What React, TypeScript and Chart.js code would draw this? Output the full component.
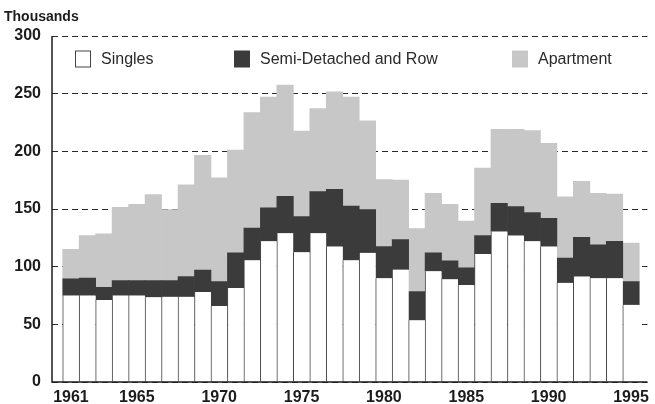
import React, { useEffect, useRef } from "react";
import { Chart, registerables } from "chart.js";

Chart.register(...registerables);

const years = [
  1961, 1962, 1963, 1964, 1965, 1966, 1967, 1968, 1969, 1970,
  1971, 1972, 1973, 1974, 1975, 1976, 1977, 1978, 1979, 1980,
  1981, 1982, 1983, 1984, 1985, 1986, 1987, 1988, 1989, 1990,
  1991, 1992, 1993, 1994, 1995,
];
const singles = [
  75, 75, 71, 75, 75, 73.5, 74, 74, 78, 66,
  81.5, 105.5, 122, 129, 112.5, 129, 117.5, 105.5, 112, 90,
  97.5, 53.5, 96, 89, 84, 111, 130.5, 127, 122, 117.5,
  86, 91.5, 90, 90, 67,
];
const semiDetached = [
  14.5, 15, 11, 13, 13, 14.5, 14, 17.5, 19, 21,
  30.5, 28, 29, 32, 31, 36, 49.5, 47, 37.5, 27.5,
  26, 25, 16, 16, 15, 16, 24.5, 25, 25, 24.5,
  21.5, 34, 29, 32, 20,
];
const apartment = [
  25.5, 37, 46.5, 63.5, 66, 74.5, 61.5, 79.5, 99.5, 90,
  89, 100, 96, 96.5, 74, 72, 84.5, 94.5, 77, 58,
  51.5, 54.5, 51.5, 49, 40.5, 58.5, 64, 67, 71, 65,
  53, 48.5, 44.5, 41, 33.5,
];
const xTickYears = [1961, 1965, 1970, 1975, 1980, 1985, 1990, 1995];
const seriesLabels = ["Singles", "Semi-Detached and Row", "Apartment"];
const yAxisTitle = "Thousands";

const FONT = "'Liberation Sans', Arial, Helvetica, sans-serif";
const INK = "#1c1c1c";
const DARK = "#3b3b3b";
const LIGHT = "#c7c7c7";

const overlayPlugin = {
  id: "overlay",
  afterDraw(chart: any) {
    const { ctx, chartArea: a } = chart;
    ctx.save();
    // axes
    ctx.strokeStyle = INK;
    ctx.lineWidth = 1.5;
    ctx.setLineDash([]);
    ctx.beginPath();
    ctx.moveTo(a.left, a.top);
    ctx.lineTo(a.left, a.bottom);
    ctx.lineTo(a.right, a.bottom);
    ctx.stroke();

    // title
    ctx.fillStyle = INK;
    ctx.font = `bold 14px ${FONT}`;
    ctx.textBaseline = "middle";
    ctx.textAlign = "left";
    ctx.fillText(yAxisTitle, 4, 17);

    // legend
    const offsets = [23, 182, 460];
    const cy = a.top + 23;
    ctx.font = `16px ${FONT}`;
    chart.data.datasets.forEach((ds: any, i: number) => {
      const bx = a.left + offsets[i];
      ctx.fillStyle = ds.legendFill;
      ctx.fillRect(bx, cy - 8.5, 16, 17);
      if (i === 0) {
        ctx.strokeStyle = "#444";
        ctx.lineWidth = 1;
        ctx.strokeRect(bx + 0.5, cy - 8, 15, 16);
      }
      ctx.fillStyle = "#2a2a2a";
      ctx.fillText(ds.label, bx + 26, cy + 1);
    });
    ctx.restore();
  },
};

export default function App() {
  const ref = useRef<HTMLCanvasElement | null>(null);

  useEffect(() => {
    document.body.style.margin = "0";
    const canvas = ref.current;
    if (!canvas) return;
    const toPts = (vals: number[]) => years.map((yr, i) => ({ x: yr, y: vals[i] }));
    const chart = new Chart(canvas, {
      type: "bar",
      data: {
        datasets: [
          {
            label: seriesLabels[0],
            data: toPts(singles),
            backgroundColor: "#ffffff",
            borderColor: "#444444",
            borderWidth: { left: 1, right: 0, top: 0, bottom: 0 },
            legendFill: "#ffffff",
          } as any,
          {
            label: seriesLabels[1],
            data: toPts(semiDetached),
            backgroundColor: DARK,
            borderWidth: 0,
            legendFill: DARK,
          } as any,
          {
            label: seriesLabels[2],
            data: toPts(apartment),
            backgroundColor: LIGHT,
            borderWidth: 0,
            legendFill: LIGHT,
          } as any,
        ],
      },
      options: {
        responsive: false,
        animation: false,
        events: [],
        layout: { padding: { top: 36, right: 7, left: 0, bottom: 0 } },
        datasets: {
          bar: { categoryPercentage: 1, barPercentage: 1 },
        },
        plugins: {
          legend: { display: false },
          tooltip: { enabled: false },
          title: { display: false },
        },
        scales: {
          x: {
            type: "linear",
            stacked: true,
            offset: false,
            bounds: "data",
            min: 1959.85,
            max: 1996.0,
            grid: { display: false, drawTicks: false, offset: false },
            border: { display: false },
            afterDataLimits: (scale: any) => {
              scale.min = 1959.85;
              scale.max = 1996.0;
            },
            afterBuildTicks: (scale: any) => {
              scale.ticks = xTickYears.map((v) => ({ value: v }));
            },
            afterFit: (scale: any) => {
              scale.height = 22;
            },
            ticks: {
              autoSkip: false,
              maxRotation: 0,
              padding: 6,
              color: INK,
              font: { family: FONT, size: 16, weight: "bold" },
              callback: (v: any) => String(v),
            },
          },
          y: {
            stacked: true,
            min: 0,
            max: 300,
            afterFit: (scale: any) => {
              scale.width = 52;
            },
            grid: {
              color: "#2a2a2a",
              lineWidth: 1,
              drawTicks: false,
            },
            border: { display: false, dash: [6, 4] },
            ticks: {
              stepSize: 50,
              padding: 11,
              color: INK,
              font: { family: FONT, size: 16, weight: "bold" },
            },
          },
        },
      } as any,
      plugins: [overlayPlugin],
    });
    return () => chart.destroy();
  }, []);

  return (
    <div style={{ width: 655, height: 404, background: "#fff" }}>
      <canvas ref={ref} width={655} height={404} style={{ display: "block" }} />
    </div>
  );
}
